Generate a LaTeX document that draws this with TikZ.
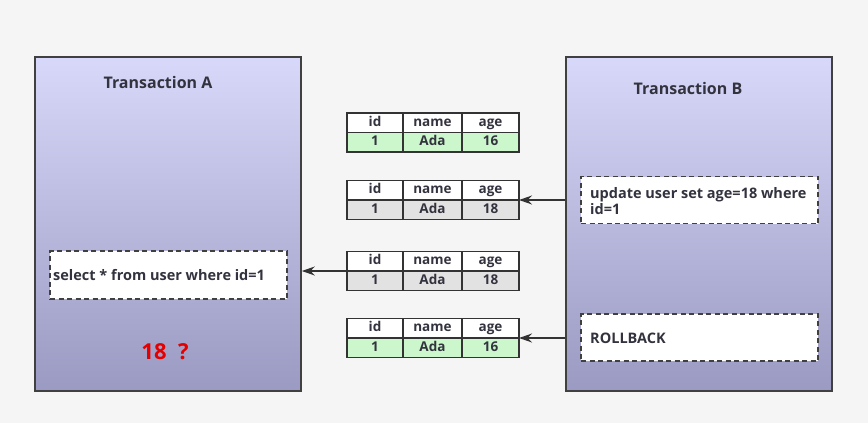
\documentclass[tikz,border=0pt]{standalone}
\usepackage{fontspec}
\setmainfont{Open Sans}
\usepackage{tikz}
\usetikzlibrary{arrows.meta}
\usetikzlibrary{positioning}

\definecolor{txtdark}{HTML}{33333F}
\definecolor{rowgreen}{HTML}{CCF6CC}
\definecolor{rowgrey}{HTML}{E2E2E2}
\definecolor{boxtop}{HTML}{D8D8FA}
\definecolor{boxbot}{HTML}{9A9AC2}

\newcommand{\usertable}[4]{% name, top, age, fill
  \node[cell, fill=white, minimum width=56pt, anchor=north west] (#1-id) at (347,#2) {id};
  \node[cell, fill=white, minimum width=59pt, anchor=north west] (#1-name) at (403,#2) {name};
  \node[cell, fill=white, minimum width=57pt, anchor=north west] (#1-age) at (462,#2) {age};
  \node[cell, fill=#4, minimum width=56pt, below=0pt of #1-id] (#1-vid) {1};
  \node[cell, fill=#4, minimum width=59pt, below=0pt of #1-name] (#1-vname) {Ada};
  \node[cell, fill=#4, minimum width=57pt, below=0pt of #1-age] (#1-vage) {#3};
}

\begin{document}
\begin{tikzpicture}[x=1pt,y=-1pt,
  font=\bfseries\fontsize{14.5}{16}\selectfont, text=txtdark,
  trans/.style={draw=black!75, line width=1.6pt, top color=boxtop, bottom color=boxbot, inner sep=0pt},
  sqlbox/.style={draw=black!75, line width=1.5pt, dash pattern=on 5pt off 3.5pt, fill=white, inner sep=0pt},
  cell/.style={draw=black!80, line width=1.3pt, minimum height=19.5pt, inner sep=0pt, outer sep=0pt,
    text height=9.5pt, text depth=2.5pt, font=\bfseries\fontsize{13.5}{15}\selectfont},
  arr/.style={draw=black!80, line width=1.5pt, -{Stealth[length=13pt,width=9pt]}}]
\fill[black!4] (0,0) rectangle (868,423);
\useasboundingbox (0,0) rectangle (868,423);

% transactions
\node[trans, minimum width=266pt, minimum height=334pt] (boxA) at (168,224) {};
\node[trans, minimum width=266pt, minimum height=334pt] (boxB) at (699,224) {};
\node[font=\bfseries\fontsize{16}{18}\selectfont] (titleA) at (158,82) {Transaction A};
\node[font=\bfseries\fontsize{16}{18}\selectfont] (titleB) at (688,88) {Transaction B};

\node[sqlbox, minimum width=237pt, minimum height=48pt] (sel) at (168.5,275) {};
\node[anchor=west, inner sep=0pt] (seltxt) at (53,275) {select * from user where id=1};
\node[text=red!90!black, font=\bfseries\fontsize{22}{24}\selectfont] (res) at (165,352) {18\ \ ?};

\node[sqlbox, minimum width=237pt, minimum height=47pt] (upd) at (699.5,200) {};
\node[anchor=west, inner sep=0pt, align=left, font=\bfseries\fontsize{14.5}{16}\selectfont] (updtxt) at (590,201) {update user set age=18 where\\id=1};
\node[sqlbox, minimum width=237pt, minimum height=47pt] (rb) at (699.5,337.5) {};
\node[anchor=west, inner sep=0pt] (rbtxt) at (590,338) {ROLLBACK};

% tables
\usertable{t1}{113}{16}{rowgreen}
\usertable{t2}{180.5}{18}{rowgrey}
\usertable{t3}{251.5}{18}{rowgrey}
\usertable{t4}{318.5}{16}{rowgreen}

\draw[arr] (t2-age.south east -| boxB.west) -- (t2-age.south east);
\draw[arr] (t3-id.south west) -- (t3-id.south west -| boxA.east);
\draw[arr] (t4-age.south east -| boxB.west) -- (t4-age.south east);
\end{tikzpicture}
\end{document}
